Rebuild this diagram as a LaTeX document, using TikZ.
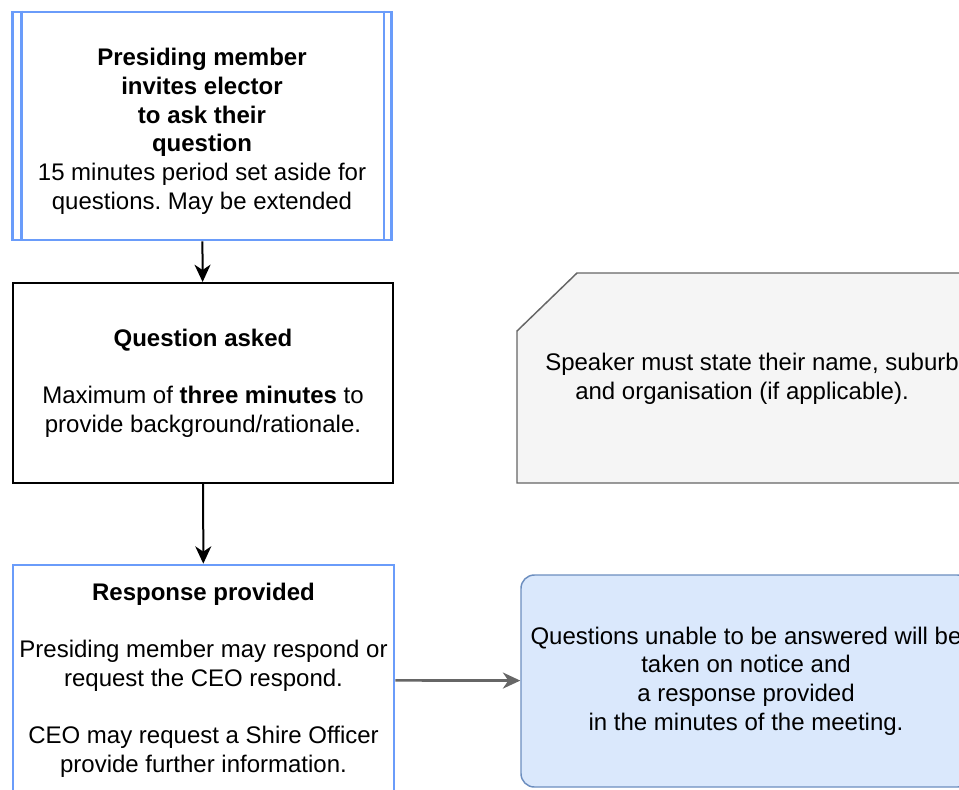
\documentclass[tikz,border=0pt]{standalone}
\usepackage{fontspec}
\setmainfont{Liberation Sans}
\usetikzlibrary{arrows.meta,calc}
\definecolor{stepblue}{HTML}{6A9CFA}
\definecolor{notefill}{HTML}{F5F5F5}
\definecolor{notedraw}{HTML}{666666}
\definecolor{ansfill}{HTML}{DAE8FC}
\definecolor{ansdraw}{HTML}{6C8EBF}
\frenchspacing

\begin{document}
\begin{tikzpicture}[x=0.75pt,y=-0.75pt,>={Stealth[length=13pt,width=12pt,inset=4pt]},
   txt/.style={align=center,inner sep=0pt,font=\fontsize{18pt}{21.5pt}\selectfont},
   bx/.style={txt,draw=#1,line width=1.5pt},
   notebox/.style={draw=notedraw,fill=notefill,line width=1.1pt}]
  \useasboundingbox (0,0) rectangle (959,789);
  \clip (0,0) rectangle (959,789);
  \node[bx=stepblue,line width=2.2pt,minimum width=284.25pt,minimum height=171pt] (invite) at (202,126)
    {\textbf{\rule{0pt}{21pt}Presiding member}\\\textbf{invites elector}\\\textbf{to ask their}\\\textbf{question}\\15 minutes period set aside for\\questions. May be extended};
  \draw[stepblue,line width=2.2pt] ($(invite.north west)+(10,0)$) -- ($(invite.south west)+(10,0)$);
  \draw[stepblue,line width=2.2pt] ($(invite.north east)+(-9,0)$) -- ($(invite.south east)+(-9,0)$);
  \node[bx=black,minimum width=285pt,minimum height=150pt] (asked) at (203,383)
    {\textbf{Question asked}\\~\\Maximum of \textbf{three minutes} to\\provide background/rationale.};
  \node[bx=stepblue,line width=2pt,minimum width=285.75pt,minimum height=172.5pt] (resp) at (203.5,680)
    {\textbf{Response provided}\\~\\Presiding member may respond or\\request the CEO respond.\\~\\CEO may request a Shire Officer\\provide further information.};
  % note on the right
  \draw[notebox] (517,331) -- (577,273) -- (1000,273) -- (1000,483) -- (517,483) -- cycle;
  \node[txt,align=left,anchor=west] (speaker) at (545,379)
    {Speaker must state their name, suburb\\\hspace*{22.5pt}and organisation (if applicable).};
  \node[bx=ansdraw,fill=ansfill,line width=1.1pt,rounded corners=10pt,minimum width=337.5pt,minimum height=159pt] (notice) at (746,681)
    {Questions unable to be answered will be\\taken on notice and\\a response provided\\in the minutes of the meeting.};
  \draw[->,line width=1.5pt] (invite) -- (asked);
  \draw[->,line width=1.5pt] (asked) -- (resp);
  \draw[->,line width=2pt,black!60] (resp) -- (notice);
\end{tikzpicture}
\end{document}
